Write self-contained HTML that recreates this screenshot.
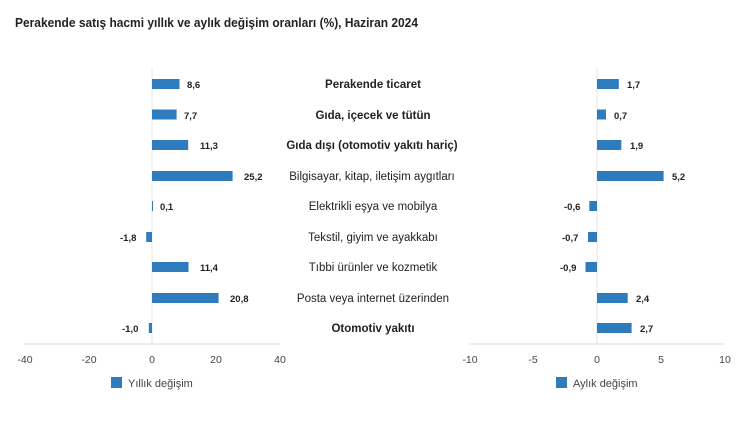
<!DOCTYPE html>
<html><head><meta charset="utf-8"><style>
body{margin:0;background:#fff;}
svg{display:block;font-family:"Liberation Sans",sans-serif;}
.v{font-size:9.5px;font-weight:bold;fill:#222;}
.c{font-size:11.5px;fill:#222;}
.b{font-weight:bold;}
.t{font-size:10.5px;fill:#444;}
</style></head><body>
<svg width="750" height="421" viewBox="0 0 750 421">
<text x="15" y="27" font-size="12.5" font-weight="bold" fill="#222" textLength="403" lengthAdjust="spacingAndGlyphs">Perakende satış hacmi yıllık ve aylık değişim oranları (%), Haziran 2024</text>
<line x1="152" y1="68" x2="152" y2="344" stroke="#e6e6e6"/>
<line x1="597" y1="68" x2="597" y2="344" stroke="#e6e6e6"/>
<line x1="24" y1="344" x2="280" y2="344" stroke="#ddd"/>
<line x1="469" y1="344" x2="725" y2="344" stroke="#ddd"/>
<g fill="#2e7bbd">
<rect x="152" y="79" width="27.5" height="10"/>
<rect x="152" y="109.5" width="24.6" height="10"/>
<rect x="152" y="140" width="36.2" height="10"/>
<rect x="152" y="171" width="80.6" height="10"/>
<rect x="152" y="201" width="1" height="10"/>
<rect x="146.2" y="232" width="5.8" height="10"/>
<rect x="152" y="262" width="36.5" height="10"/>
<rect x="152" y="293" width="66.6" height="10"/>
<rect x="148.8" y="323" width="3.2" height="10"/>
<rect x="597" y="79" width="21.8" height="10"/>
<rect x="597" y="109.5" width="9" height="10"/>
<rect x="597" y="140" width="24.3" height="10"/>
<rect x="597" y="171" width="66.6" height="10"/>
<rect x="589.3" y="201" width="7.7" height="10"/>
<rect x="588" y="232" width="9" height="10"/>
<rect x="585.5" y="262" width="11.5" height="10"/>
<rect x="597" y="293" width="30.7" height="10"/>
<rect x="597" y="323" width="34.6" height="10"/>
</g>
<g class="v">
<text x="187" y="88">8,6</text>
<text x="184" y="119">7,7</text>
<text x="200" y="149">11,3</text>
<text x="244" y="180">25,2</text>
<text x="160" y="210">0,1</text>
<text x="120" y="241">-1,8</text>
<text x="200" y="271">11,4</text>
<text x="230" y="302">20,8</text>
<text x="122" y="332">-1,0</text>
<text x="627" y="88">1,7</text>
<text x="614" y="119">0,7</text>
<text x="630" y="149">1,9</text>
<text x="672" y="180">5,2</text>
<text x="564" y="210">-0,6</text>
<text x="562" y="241">-0,7</text>
<text x="560" y="271">-0,9</text>
<text x="636" y="302">2,4</text>
<text x="640" y="332">2,7</text>
</g>
<g class="c" text-anchor="middle">
<text x="373" y="88" class="b">Perakende ticaret</text>
<text x="373" y="119" class="b">Gıda, içecek ve tütün</text>
<text x="372" y="149" class="b">Gıda dışı (otomotiv yakıtı hariç)</text>
<text x="372" y="180">Bilgisayar, kitap, iletişim aygıtları</text>
<text x="373" y="210">Elektrikli eşya ve mobilya</text>
<text x="373" y="241">Tekstil, giyim ve ayakkabı</text>
<text x="373" y="271">Tıbbi ürünler ve kozmetik</text>
<text x="373" y="302">Posta veya internet üzerinden</text>
<text x="373" y="332" class="b">Otomotiv yakıtı</text>
</g>
<g class="t" text-anchor="middle">
<text x="25" y="363">-40</text>
<text x="89" y="363">-20</text>
<text x="152" y="363">0</text>
<text x="216" y="363">20</text>
<text x="280" y="363">40</text>
<text x="470" y="363">-10</text>
<text x="533" y="363">-5</text>
<text x="597" y="363">0</text>
<text x="661" y="363">5</text>
<text x="725" y="363">10</text>
</g>
<rect x="111" y="377" width="11" height="11" fill="#2e7bbd"/>
<text x="128" y="387" font-size="11" fill="#444">Yıllık değişim</text>
<rect x="556" y="377" width="11" height="11" fill="#2e7bbd"/>
<text x="573" y="387" font-size="11" fill="#444">Aylık değişim</text>
</svg>
</body></html>
